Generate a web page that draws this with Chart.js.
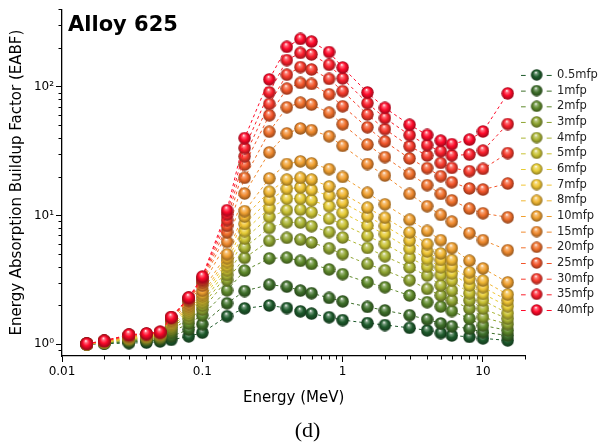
<!DOCTYPE html>
<html>
<head>
<meta charset="utf-8">
<script src="https://cdn.jsdelivr.net/npm/chart.js@4.4.0/dist/chart.umd.min.js"></script>
<style>
  html, body { margin: 0; padding: 0; background: #fff; }
  #wrap { width: 606px; height: 446px; position: relative; }
</style>
</head>
<body>
<div id="wrap"><canvas id="chart-area" width="606" height="446"></canvas></div>
<script>
// photon energies (MeV)
var energies = [0.015, 0.02, 0.03, 0.04, 0.05, 0.06, 0.08, 0.1, 0.15, 0.2, 0.3, 0.4, 0.5, 0.6, 0.8, 1, 1.5, 2, 3, 4, 5, 6, 8, 10, 15];

// EABF per penetration depth
var mfp05 = [1.0, 1.01, 1.02, 1.03, 1.05, 1.08, 1.15, 1.23, 1.65, 1.90, 2.0, 1.91, 1.80, 1.73, 1.62, 1.54, 1.46, 1.41, 1.34, 1.28, 1.22, 1.17, 1.14, 1.11, 1.07];
var mfp1 = [1.0, 1.02, 1.04, 1.06, 1.08, 1.15, 1.30, 1.43, 2.08, 2.59, 2.9, 2.80, 2.61, 2.49, 2.29, 2.15, 1.95, 1.83, 1.68, 1.56, 1.45, 1.38, 1.32, 1.24, 1.17];
var mfp2 = [1.0, 1.02, 1.06, 1.08, 1.11, 1.24, 1.45, 1.68, 2.62, 3.73, 4.64, 4.70, 4.44, 4.20, 3.81, 3.50, 3.03, 2.77, 2.39, 2.12, 1.96, 1.81, 1.58, 1.40, 1.28];
var mfp3 = [1.0, 1.03, 1.08, 1.10, 1.13, 1.30, 1.57, 1.86, 3.15, 4.68, 6.35, 6.70, 6.49, 6.17, 5.56, 5.01, 4.20, 3.75, 3.14, 2.69, 2.39, 2.19, 1.89, 1.62, 1.43];
var mfp4 = [1.0, 1.03, 1.09, 1.12, 1.15, 1.35, 1.67, 2.0, 3.45, 5.64, 8.0, 8.86, 8.80, 8.25, 7.43, 6.74, 5.59, 4.82, 3.95, 3.41, 2.86, 2.61, 2.19, 1.89, 1.58];
var mfp5 = [1.0, 1.03, 1.10, 1.13, 1.17, 1.39, 1.75, 2.12, 3.75, 6.61, 9.73, 11.0, 11.1, 10.6, 9.45, 8.55, 6.94, 6.00, 4.70, 4.00, 3.45, 3.12, 2.49, 2.19, 1.74];
var mfp6 = [1.0, 1.04, 1.11, 1.14, 1.18, 1.43, 1.83, 2.24, 4.05, 7.55, 11.4, 13.5, 13.5, 13.1, 11.8, 10.5, 8.34, 7.16, 5.51, 4.59, 3.95, 3.55, 2.86, 2.46, 1.97];
var mfp7 = [1.0, 1.04, 1.12, 1.15, 1.19, 1.46, 1.90, 2.35, 4.35, 8.6, 13.2, 16.1, 16.5, 15.8, 14.2, 12.6, 9.88, 8.29, 6.39, 5.25, 4.51, 4.00, 3.22, 2.77, 2.19];
var mfp8 = [1.0, 1.04, 1.13, 1.16, 1.20, 1.49, 1.96, 2.45, 4.65, 9.8, 15.3, 19.0, 19.6, 19.0, 16.8, 14.8, 11.5, 9.61, 7.39, 5.99, 5.07, 4.51, 3.62, 3.12, 2.43];
var mfp10 = [1.0, 1.05, 1.14, 1.17, 1.21, 1.53, 2.05, 2.6, 5.0, 10.8, 19.4, 25.1, 26.3, 25.4, 22.9, 19.9, 15.0, 12.2, 9.26, 7.59, 6.43, 5.58, 4.45, 3.88, 3.02];
var mfp15 = [1.01, 1.05, 1.15, 1.18, 1.22, 1.57, 2.15, 2.85, 6.24, 14.8, 30.9, 43.4, 47.4, 46.0, 41.2, 34.7, 25.1, 20.4, 14.7, 11.8, 10.1, 8.96, 7.29, 6.43, 5.37];
var mfp20 = [1.01, 1.05, 1.16, 1.19, 1.23, 1.59, 2.20, 3.0, 7.4, 19.6, 44.7, 69.2, 75.2, 72.6, 62.8, 51.1, 35.5, 28.4, 21.0, 17.2, 14.7, 13.1, 11.3, 10.4, 9.68];
var mfp25 = [1.01, 1.06, 1.17, 1.20, 1.235, 1.60, 2.24, 3.1, 8.3, 24.8, 60, 96.6, 107, 105, 87.3, 70.5, 48.4, 37.5, 27.7, 23.3, 20.2, 18.1, 16.2, 15.9, 17.7];
var mfp30 = [1.01, 1.06, 1.18, 1.20, 1.24, 1.61, 2.27, 3.2, 9.2, 28.8, 73.5, 124, 142, 136, 115, 92.3, 60.8, 46.8, 34.5, 29.2, 25.6, 23.4, 22.1, 23.0, 30.5];
var mfp35 = [1.01, 1.06, 1.18, 1.21, 1.24, 1.62, 2.29, 3.28, 10.2, 33.4, 90.4, 161, 183, 178, 148, 116, 74.6, 57.1, 42.1, 35.2, 31.5, 29.3, 29.7, 31.9, 51.3];
var mfp40 = [1.01, 1.06, 1.19, 1.21, 1.245, 1.62, 2.31, 3.35, 11.0, 39.9, 114, 204, 235, 224, 186, 141, 90.2, 68.5, 50.6, 42.2, 38.1, 35.8, 38.8, 44.9, 88.7];

var seriesNames = ['0.5mfp', '1mfp', '2mfp', '3mfp', '4mfp', '5mfp', '6mfp', '7mfp', '8mfp', '10mfp', '15mfp', '20mfp', '25mfp', '30mfp', '35mfp', '40mfp'];
var seriesValues = [mfp05, mfp1, mfp2, mfp3, mfp4, mfp5, mfp6, mfp7, mfp8, mfp10, mfp15, mfp20, mfp25, mfp30, mfp35, mfp40];
var seriesColors = ['#1e5b2c', '#3e6f2a', '#5f8a2b', '#8ea431', '#aab433', '#c9c233', '#e6cc35', '#f0c534',
                    '#f0b632', '#f0a030', '#f08a2e', '#f0702b', '#f2552a', '#f63a2c', '#fa1f2c', '#ff0a2a'];

var xMajor = [0.01, 0.1, 1, 10];
var xTickLabels = ['0.01', '0.1', '1', '10'];
var yMajor = [1, 10, 100];
var yTickLabels = ['10\u2070', '10\u00b9', '10\u00b2'];

var font = '"DejaVu Sans", "Liberation Sans", Arial, sans-serif';

function shade(hex, f) {
  var c = [parseInt(hex.substr(1, 2), 16), parseInt(hex.substr(3, 2), 16), parseInt(hex.substr(5, 2), 16)];
  c = c.map(function(v) { return Math.round(f > 0 ? v + (255 - v) * f : v * (1 + f)); });
  return 'rgb(' + c.join(',') + ')';
}

function drawBall(ctx, color, cx, cy, r) {
  var g = ctx.createRadialGradient(cx - r * 0.15, cy - r * 0.45, 0.2, cx, cy, r);
  g.addColorStop(0, '#ffffff');
  g.addColorStop(0.2, shade(color, 0.4));
  g.addColorStop(0.55, color);
  g.addColorStop(1, shade(color, -0.4));
  ctx.fillStyle = g;
  ctx.beginPath();
  ctx.arc(cx, cy, r, 0, Math.PI * 2);
  ctx.fill();
}

function ballImage(color) {
  var c = document.createElement('canvas');
  c.width = 13; c.height = 13;
  drawBall(c.getContext('2d'), color, 6.5, 6.5, 6.2);
  return c;
}

function legendImage(color) {
  var c = document.createElement('canvas');
  c.width = 32; c.height = 12;
  var x = c.getContext('2d');
  x.strokeStyle = color;
  x.lineWidth = 1;
  x.beginPath();
  x.moveTo(0, 6.5); x.lineTo(5, 6.5);
  x.moveTo(26, 6.5); x.lineTo(31, 6.5);
  x.stroke();
  drawBall(x, color, 16, 6, 5.8);
  return c;
}

var legendImgs = seriesColors.map(legendImage);

var datasets = seriesNames.map(function(name, i) {
  return {
    label: name,
    data: energies.map(function(e, j) { return {x: e, y: seriesValues[i][j]}; }),
    borderColor: seriesColors[i],
    backgroundColor: seriesColors[i],
    borderWidth: 1,
    borderDash: [3, 3],
    pointStyle: ballImage(seriesColors[i]),
    pointRadius: 6.2,
    order: seriesNames.length - i
  };
});

var decor = {
  id: 'decor',
  afterLayout: function(chart) {
    var lg = chart.legend;
    var w = lg.right - lg.left, h = lg.bottom - lg.top;
    lg.left = 518; lg.right = lg.left + w;
    lg.top = 65; lg.bottom = lg.top + h;
  },
  afterDraw: function(chart) {
    var ctx = chart.ctx, xs = chart.scales.x, ys = chart.scales.y;
    ctx.save();
    ctx.strokeStyle = '#000';
    ctx.lineWidth = 1;
    ctx.beginPath();
    for (var e = -2; e <= 1; e++) {
      for (var k = 2; k <= 9; k++) {
        var v = k * Math.pow(10, e);
        if (v > xs.max) continue;
        var px = Math.round(xs.getPixelForValue(v)) + 0.5;
        ctx.moveTo(px, xs.top); ctx.lineTo(px, xs.top + 3.5);
      }
    }
    for (var e2 = -1; e2 <= 2; e2++) {
      for (var k2 = 2; k2 <= 9; k2++) {
        var v2 = k2 * Math.pow(10, e2);
        if (v2 < ys.min || v2 > ys.max) continue;
        var py = Math.round(ys.getPixelForValue(v2)) + 0.5;
        ctx.moveTo(ys.right - 3.5, py); ctx.lineTo(ys.right, py);
      }
    }
    ctx.stroke();
    ctx.fillStyle = '#000';
    ctx.font = 'bold 21px ' + font;
    ctx.textBaseline = 'alphabetic';
    ctx.fillText('Alloy 625', chart.chartArea.left + 6, chart.chartArea.top + 22);
    ctx.restore();
  }
};

var config = {
  type: 'line',
  data: { datasets: datasets },
  plugins: [decor],
  options: {
    responsive: false,
    animation: false,
    layout: { padding: { top: 7, left: 0, right: -9, bottom: 0 } },
    scales: {
      x: {
        type: 'logarithmic',
        min: 0.01,
        max: 20,
        afterFit: function(s) { s.height = 60; },
        afterBuildTicks: function(s) { s.ticks = xMajor.map(function(v) { return {value: v}; }); },
        grid: { drawOnChartArea: false, drawTicks: true, tickLength: 6, tickColor: '#000' },
        border: { display: true, color: '#000', width: 1.3 },
        ticks: {
          color: '#000', padding: 3, maxRotation: 0,
          font: { family: font, size: 12 },
          callback: function(value, index) { return xTickLabels[index]; }
        },
        title: {
          display: true, text: 'Energy (MeV)', color: '#000',
          font: { family: font, size: 15 }, padding: { top: 0, bottom: 9 }
        }
      },
      y: {
        type: 'logarithmic',
        min: 0.81,
        max: 400,
        afterFit: function(s) { s.width = 62; },
        afterBuildTicks: function(s) { s.ticks = yMajor.map(function(v) { return {value: v}; }); },
        grid: { drawOnChartArea: false, drawTicks: true, tickLength: 6, tickColor: '#000' },
        border: { display: true, color: '#000', width: 1.3 },
        ticks: {
          color: '#000', padding: 2,
          font: { family: font, size: 12 },
          callback: function(value, index) { return yTickLabels[index]; }
        },
        title: {
          display: true, text: 'Energy Absorption Buildup Factor (EABF)', color: '#000',
          font: { family: font, size: 15 }, padding: { top: 8.5, bottom: 0 }
        }
      }
    },
    plugins: {
      legend: {
        position: 'right',
        align: 'start',
        labels: {
          usePointStyle: true,
          pointStyleWidth: 29,
          padding: 4.17,
          color: '#222',
          font: { family: font, size: 11.5 },
          generateLabels: function(chart) {
            return chart.data.datasets.map(function(ds, i) {
              return {
                text: ds.label, datasetIndex: i, pointStyle: legendImgs[i],
                fillStyle: ds.backgroundColor, strokeStyle: ds.borderColor,
                lineWidth: 0, hidden: false, fontColor: '#222'
              };
            });
          }
        }
      },
      subtitle: {
        display: true,
        position: 'bottom',
        text: '(d)',
        color: '#000',
        font: { family: '"Liberation Serif", "Times New Roman", serif', size: 22, weight: 'normal', lineHeight: 1 },
        padding: { top: 4, bottom: 4 }
      },
      tooltip: { enabled: false }
    }
  }
};

window.onload = function() {
  var ctx = document.getElementById('chart-area').getContext('2d');
  window.myChart = new Chart(ctx, config);
};
</script>
</body>
</html>
